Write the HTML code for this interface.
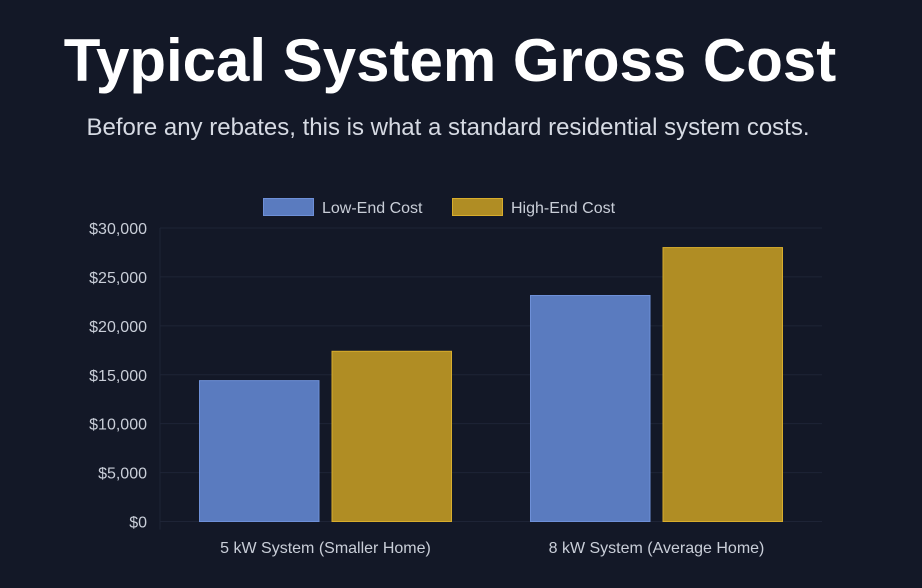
<!DOCTYPE html>
<html><head><meta charset="utf-8"><style>
html,body{margin:0;padding:0;background:#131827;width:922px;height:588px;overflow:hidden;font-family:"Liberation Sans",sans-serif}
h1{position:absolute;left:0;width:900px;top:26px;margin:0;text-align:center;color:#fff;font-size:60px;font-weight:bold;letter-spacing:0px}
p{position:absolute;left:0;width:896px;top:114px;margin:0;text-align:center;color:#d6dae3;font-size:24px}
svg{position:absolute;left:0;top:0}
</style></head><body>
<h1>Typical System Gross Cost</h1>
<p>Before any rebates, this is what a standard residential system costs.</p>
<svg id="c" width="922" height="588"></svg>
<script>
const categories=["5 kW System (Smaller Home)","8 kW System (Average Home)"];
const lowEnd=[14400,23100];
const highEnd=[17400,28000];
const yTicks=[0,5000,10000,15000,20000,25000,30000];
const seriesNames=["Low-End Cost","High-End Cost"];
const NS="http://www.w3.org/2000/svg";
const svg=document.getElementById('c');
const L=160,R=822,T=228,B=521.5,yMax=30000;
const y=v=>B-(v/yMax)*(B-T);
const bw=(R-L)/categories.length;
function mk(t,a,txt){const e=document.createElementNS(NS,t);for(const k in a)e.setAttribute(k,a[k]);if(txt!=null)e.textContent=txt;svg.appendChild(e);return e;}
yTicks.forEach(v=>{
 const g=mk('line',{x1:L,x2:R,y1:y(v),y2:y(v),stroke:'#1e2436','stroke-width':1});
 
 
 const t=mk('text',{x:147,y:y(v)+6,'text-anchor':'end',fill:'#c9ced8','font-size':16,'font-family':'Liberation Sans, sans-serif'},'$'+v.toLocaleString('en-US'));
 
 
});
const ax=mk('line',{x1:L,x2:L,y1:T,y2:B+8,stroke:'#1e2436'});


const colors=[['#5a7bbf','#6e90d8'],['#b08d24','#d8ad2c']];
const barW=119.5,gap=13;
categories.forEach((c,i)=>{
 const cx=L+bw*(i+0.5);
 [lowEnd,highEnd].forEach((arr,s)=>{
  const x=s===0?cx-gap/2-barW:cx+gap/2;
  const r=mk('rect',{x:x,y:y(arr[i]),width:barW,height:B-y(arr[i]),fill:colors[s][0],stroke:colors[s][1],'stroke-width':1});
  
  
 });
 const t=mk('text',{x:cx,y:553,'text-anchor':'middle',fill:'#c9ced8','font-size':16,'font-family':'Liberation Sans, sans-serif'},c);
 
 
});
const lg=[[263,322],[452,511]];
seriesNames.forEach((n,s)=>{
 const r=mk('rect',{x:lg[s][0]+0.5,y:198.5,width:50,height:17,fill:colors[s][0],stroke:colors[s][1]});
 
 
 const t=mk('text',{x:lg[s][1],y:213,fill:'#c9ced8','font-size':16,'font-family':'Liberation Sans, sans-serif'},n);
 
 
});
</script>
</body></html>
